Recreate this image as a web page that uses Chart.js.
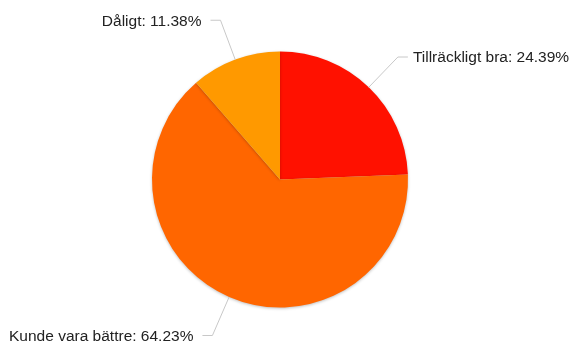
<!DOCTYPE html>
<html>
<head>
<meta charset="utf-8">
<script src="https://cdn.jsdelivr.net/npm/chart.js@4"></script>
<style>
  html, body { margin: 0; padding: 0; background: #fff; }
  #wrap { width: 574px; height: 343px; }
</style>
</head>
<body>
<div id="wrap"><canvas id="myChart"></canvas></div>
<script>
const categories = ['Tillräckligt bra', 'Kunde vara bättre', 'Dåligt'];
const shares = [24.39, 64.23, 11.38];
const sliceColors = ['#ff1100', '#ff6600', '#ff9900'];

// soft drop shadow under the pie
const pieShadow = {
  id: 'pieShadow',
  beforeDatasetDraw(chart) {
    const ctx = chart.ctx;
    ctx.save();
    ctx.shadowColor = 'rgba(0,0,0,0.25)';
    ctx.shadowBlur = 3;
    ctx.shadowOffsetY = 1;
  },
  afterDatasetDraw(chart) {
    chart.ctx.restore();
  }
};

// outside labels with elbow leader lines
const outsideLabels = {
  id: 'outsideLabels',
  afterDatasetsDraw(chart) {
    const ctx = chart.ctx;
    const meta = chart.getDatasetMeta(0);
    ctx.save();
    ctx.font = '15.5px "Liberation Sans", Arial, sans-serif';
    ctx.fillStyle = '#222';
    ctx.strokeStyle = '#c8c8c8';
    ctx.lineWidth = 1;
    ctx.textBaseline = 'middle';
    meta.data.forEach((arc, i) => {
      const mid = (arc.startAngle + arc.endAngle) / 2;
      const r = arc.outerRadius;
      const x0 = arc.x + Math.cos(mid) * r;
      const y0 = arc.y + Math.sin(mid) * r;
      const x1 = arc.x + Math.cos(mid) * (r + 42);
      const y1 = arc.y + Math.sin(mid) * (r + 42);
      const right = Math.cos(mid) >= 0;
      const x2 = x1 + (right ? 10 : -10);
      ctx.beginPath();
      ctx.moveTo(x0, y0);
      ctx.lineTo(x1, y1);
      ctx.lineTo(x2, y1);
      ctx.stroke();
      ctx.textAlign = right ? 'left' : 'right';
      const text = categories[i] + ': ' + shares[i].toFixed(2) + '%';
      ctx.fillText(text, x2 + (right ? 5 : -9), y1 + 1);
    });
    ctx.restore();
  }
};

new Chart(document.getElementById('myChart'), {
  type: 'pie',
  data: {
    labels: categories,
    datasets: [{
      data: shares,
      backgroundColor: sliceColors,
      borderWidth: 0
    }]
  },
  options: {
    responsive: true,
    maintainAspectRatio: false,
    animation: false,
    layout: { padding: { top: 51, bottom: 35, left: 152, right: 166 } },
    plugins: {
      legend: { display: false },
      tooltip: { enabled: false }
    }
  },
  plugins: [pieShadow, outsideLabels]
});
</script>
</body>
</html>
